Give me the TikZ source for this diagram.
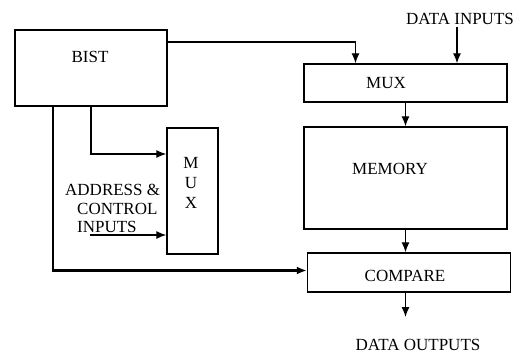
\documentclass[tikz,border=0pt]{standalone}
\usepackage{fontspec}
\setmainfont{Liberation Serif}
\usetikzlibrary{arrows.meta}
\begin{document}
\begin{tikzpicture}[x=1pt,y=-1pt,>={Latex[length=10pt,width=8pt]},
        block/.style={draw,line width=1.4pt,inner sep=0pt},
        wire/.style={line width=1.3pt},
        txt/.style={inner sep=0pt,font=\fontsize{17}{18.5}\selectfont}]
        \useasboundingbox (0,0) rectangle (520,354);

        % draw the blocks
        \node[block,minimum width=152pt,minimum height=76pt] (bist) at (91,68) {};
        \node[block,minimum width=203pt,minimum height=38pt] (mux) at (405.5,83) {};
        \node[block,minimum width=203pt,minimum height=102pt] (memory) at (405.5,178) {};
        \node[block,minimum width=203pt,minimum height=39pt] (compare) at (409,272.5) {};
        \node[block,minimum width=51pt,minimum height=126pt] (amux) at (192.5,191) {};

        % block labels
        \node[txt] (bisttxt) at (90,57) {BIST};
        \node[txt] (muxtxt) at (386,83) {MUX};
        \node[txt] (memtxt) at (390,169) {MEMORY};
        \node[txt] (cmptxt) at (405,276) {COMPARE};
        \foreach \l/\y in {M/163,U/183,X/203}
                \node[txt] (amux\l) at (191,\y) {\l};

        % inputs and outputs
        \node[txt] (datain) at (460,18.5) {DATA INPUTS};
        \node[txt] (dataout) at (418,345) {DATA OUTPUTS};
        \node[txt,anchor=north west,align=left] (addrtxt) at (65,184)
                {ADDRESS \&\\\hspace*{12pt}CONTROL\\\hspace*{12pt}INPUTS};
        \coordinate (addr) at (90,235);
        \coordinate (outend) at (405.5,317);

        % draw the connections
        \draw[wire,->] ([yshift=26pt]bist.east) -| ([xshift=-50pt]mux.north);
        \draw[wire,->] ([shift={(-3,3)}]datain.south) -- ([xshift=51.5pt]mux.north);
        \draw[wire,->] (mux.south) -- (memory.north);
        \draw[wire,->] (memory.south) -- (memory.south |- compare.north);
        \draw[wire,->] (compare.south -| outend) -- (outend);
        \draw[wire,->] (bist.south) |- ([yshift=37pt]amux.west);
        \draw[wire,->] (addr) -- (addr -| amux.west);
        \draw[line width=2.6pt,->] ([xshift=-38pt]bist.south) |- ([yshift=2pt]compare.west);
\end{tikzpicture}
\end{document}
